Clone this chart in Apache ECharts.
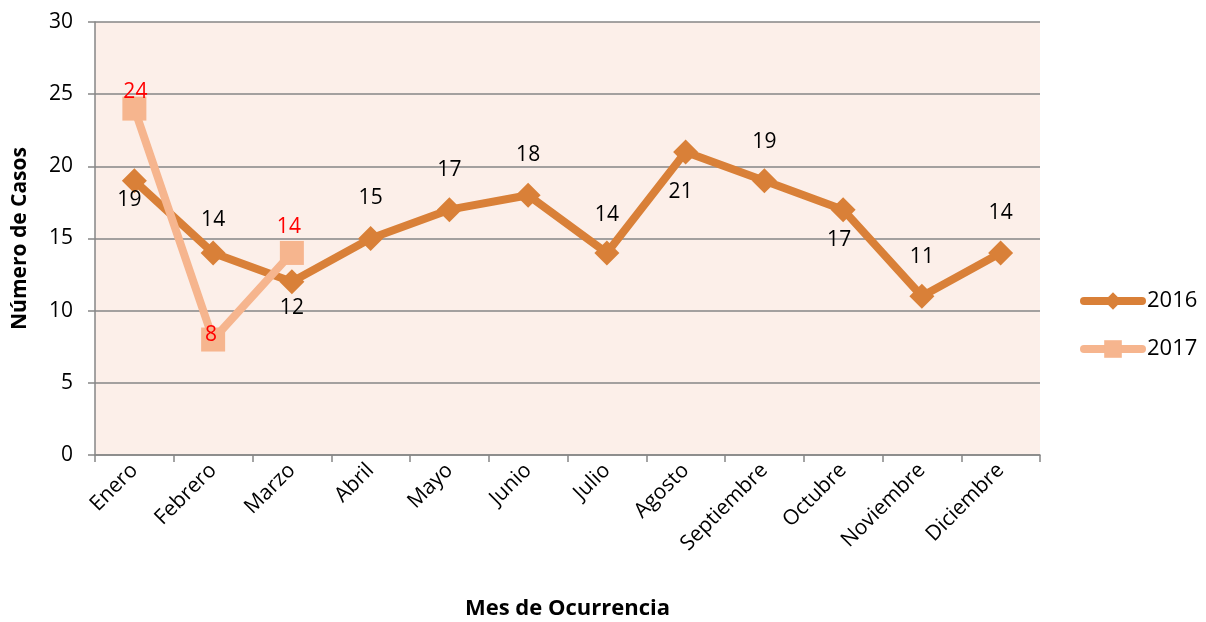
<!DOCTYPE html>
<html>
<head>
<meta charset="utf-8">
<script src="https://cdn.jsdelivr.net/npm/echarts@6/dist/echarts.min.js"></script>
<style>
  html, body { margin: 0; padding: 0; background: #fff; }
  #main { width: 1206px; height: 622px; }
</style>
</head>
<body>
<div id="main"></div>
<script>
    // datos
    var meses = ['Enero', 'Febrero', 'Marzo', 'Abril', 'Mayo', 'Junio', 'Julio',
        'Agosto', 'Septiembre', 'Octubre', 'Noviembre', 'Diciembre'];
    var casos2016 = [19, 14, 12, 15, 17, 18, 14, 21, 19, 17, 11, 14];
    var casos2017 = [24, 8, 14];
    // desplazamiento de cada etiqueta respecto al punto (px)
    var despl2016 = [[-5, 19], [0, -33], [0, 26], [0, -40], [0, -40], [0, -40], [0, -38],
        [-5, 40], [0, -39], [-4, 30], [0, -39], [0, -40]];
    var despl2017 = [[1, -17], [-2, -5], [-3, -26]];

    var fuente = '"Open Sans", "DejaVu Sans", sans-serif';

    function armarDatos(valores, despl) {
        return valores.map(function (v, i) {
            return {value: v, label: {offset: despl[i]}};
        });
    }

    var myChart = echarts.init(document.getElementById('main'));
    var option = {
        animation: false,
        textStyle: {fontFamily: fuente},
        grid: {
            left: 95, right: 166, top: 22, bottom: 167,
            outerBoundsMode: 'none',
            containLabel: false,
            show: true,
            backgroundColor: '#fcefe9',
            borderWidth: 0
        },
        legend: {
            orient: 'vertical',
            left: 1075,
            top: 285,
            itemWidth: 58,
            itemHeight: 22,
            itemGap: 26,
            lineStyle: {width: 8, cap: 'round'},
            textStyle: {fontSize: 22, color: '#000', fontFamily: fuente},
            data: ['2016', '2017']
        },
        xAxis: {
            type: 'category',
            data: meses,
            boundaryGap: true,
            name: 'Mes de Ocurrencia',
            nameLocation: 'middle',
            nameGap: 143,
            nameTextStyle: {fontSize: 22, fontWeight: 'bold', color: '#000'},
            axisLine: {lineStyle: {color: '#868686', width: 1.5}},
            axisTick: {show: true, length: 7, alignWithLabel: false, lineStyle: {color: '#868686', width: 1.5}},
            axisLabel: {rotate: 45, fontSize: 21, color: '#000', margin: 12}
        },
        yAxis: {
            type: 'value',
            min: 0, max: 30, interval: 5,
            name: 'Número de Casos',
            nameLocation: 'middle',
            nameGap: 64,
            nameTextStyle: {fontSize: 21, fontWeight: 'bold', color: '#000'},
            axisLine: {show: true, lineStyle: {color: '#868686', width: 1.5}},
            axisTick: {show: true, length: 7, lineStyle: {color: '#868686', width: 1.5}},
            axisLabel: {fontSize: 21, color: '#000', margin: 22},
            splitLine: {lineStyle: {color: '#868686', width: 1.5}}
        },
        series: [
            {
                name: '2016',
                type: 'line',
                data: armarDatos(casos2016, despl2016),
                symbol: 'diamond',
                symbolSize: 25,
                lineStyle: {width: 8, color: '#d98038'},
                itemStyle: {color: '#d98038'},
                label: {show: true, position: 'inside', fontSize: 21, color: '#000'},
                z: 2
            },
            {
                name: '2017',
                type: 'line',
                data: armarDatos(casos2017, despl2017),
                symbol: 'rect',
                symbolSize: 24,
                lineStyle: {width: 8, color: '#f6b58e'},
                itemStyle: {color: '#f6b58e'},
                label: {show: true, position: 'inside', fontSize: 21, color: '#ff0000'},
                z: 3
            }
        ]
    };
    myChart.setOption(option);
</script>
</body>
</html>
